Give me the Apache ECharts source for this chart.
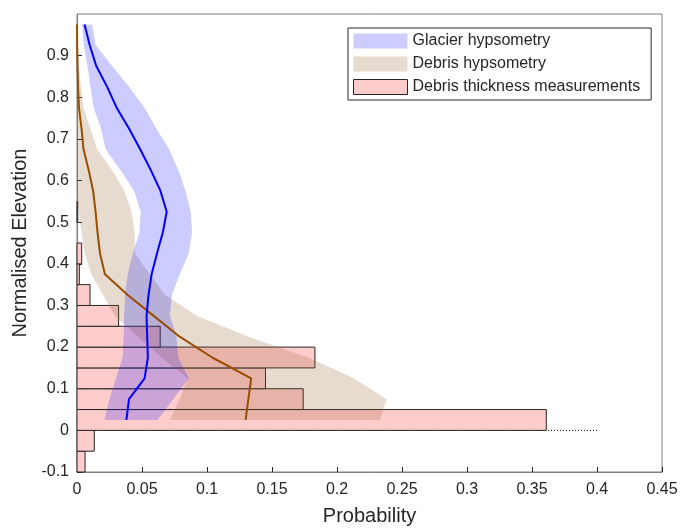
<!DOCTYPE html>
<html>
<head>
<meta charset="utf-8">
<script src="https://cdn.jsdelivr.net/npm/echarts@6/dist/echarts.min.js"></script>
<style>
  html, body { margin: 0; padding: 0; background: #fff; }
  #chart { width: 681px; height: 531px; }
</style>
</head>
<body>
<div id="chart"></div>
<script>
// elevation bin centres (normalised)
const elevation = [0.025, 0.075, 0.125, 0.175, 0.225, 0.275, 0.325, 0.375, 0.425, 0.475,
  0.525, 0.575, 0.625, 0.675, 0.725, 0.775, 0.825, 0.875, 0.925, 0.975];

const glacierMean = [0.038, 0.040, 0.052, 0.0545, 0.054, 0.0535, 0.055, 0.0574, 0.0615, 0.066,
  0.069, 0.0642, 0.0568, 0.0486, 0.040, 0.0305, 0.0232, 0.0148, 0.0098, 0.0058];
const glacierLow = [0.021, 0.025, 0.030, 0.035, 0.036, 0.0362, 0.037, 0.039, 0.043, 0.048,
  0.049, 0.044, 0.0335, 0.022, 0.0185, 0.0128, 0.0104, 0.008, 0.0052, 0.0038];
const glacierHigh = [0.062, 0.074, 0.086, 0.078, 0.0765, 0.0715, 0.073, 0.079, 0.086, 0.0885,
  0.0875, 0.0835, 0.078, 0.071, 0.061, 0.052, 0.040, 0.027, 0.0145, 0.0115];

const debrisMean = [0.1297, 0.1318, 0.134, 0.104, 0.079, 0.059, 0.039, 0.0215, 0.0177, 0.0158,
  0.0143, 0.0124, 0.009, 0.005, 0.0035, 0.0015, 0.0008, 0.0004, 0.0001, 0];
const debrisLow = [0.0715, 0.079, 0.085, 0.065, 0.047, 0.029, 0.020, 0.011, 0.006, 0.0035,
  0.0015, 0, 0, 0, 0, 0, 0, 0, 0, 0];
const debrisHigh = [0.233, 0.238, 0.213, 0.178, 0.132, 0.092, 0.068, 0.056, 0.0446, 0.0444,
  0.042, 0.0365, 0.027, 0.0155, 0.0103, 0.005, 0.003, 0.0015, 0.0008, 0.0002];

// debris thickness measurement histogram (bins of normalised elevation)
const binLower = [-0.1, -0.05, 0, 0.05, 0.1, 0.15, 0.2, 0.25, 0.3, 0.35, 0.4, 0.45, 0.5];
const binUpper = [-0.05, 0, 0.05, 0.1, 0.15, 0.2, 0.25, 0.3, 0.35, 0.4, 0.45, 0.5, 0.55];
const thicknessProb = [0.0062, 0.0133, 0.361, 0.174, 0.145, 0.183, 0.064, 0.032, 0.010, 0.0018,
  0.0036, 0, 0.0006];

const xTicks = [0, 0.05, 0.1, 0.15, 0.2, 0.25, 0.3, 0.35, 0.4, 0.45];
const yTicks = [-0.1, 0, 0.1, 0.2, 0.3, 0.4, 0.5, 0.6, 0.7, 0.8, 0.9];

const FONT = "'Liberation Sans', Arial, sans-serif";
const AXIS_GREY = "#808080";
const TEXT_DARK = "#262626";

const chart = echarts.init(document.getElementById("chart"));

function bandSeries(name, lo, hi, fill) {
  return {
    name: name,
    type: "custom",
    z: 3,
    itemStyle: { color: fill },
    encode: { x: [0, 2], y: 1 },
    data: elevation.map((e, i) => [lo[i], e, hi[i]]),
    renderItem: function (params, api) {
      if (params.dataIndex !== 0) return null;
      const pts = [];
      for (let i = 0; i < elevation.length; i++) pts.push(api.coord([hi[i], elevation[i]]));
      for (let i = elevation.length - 1; i >= 0; i--) pts.push(api.coord([lo[i], elevation[i]]));
      return {
        type: "polygon",
        shape: { points: pts },
        style: { fill: fill, stroke: null },
      };
    },
  };
}

const option = {
  animation: false,
  backgroundColor: "#fff",
  textStyle: { fontFamily: FONT },
  grid: {
    left: 77,
    right: 19,
    top: 14,
    bottom: 55,
    show: true,
    borderColor: AXIS_GREY,
    borderWidth: 1,
  },
  legend: {
    orient: "vertical",
    left: 348,
    top: 28,
    padding: [5, 11, 5, 5],
    itemWidth: 54,
    itemHeight: 15,
    itemGap: 7,
    borderColor: TEXT_DARK,
    borderWidth: 1,
    backgroundColor: "#fff",
    selectedMode: false,
    textStyle: { fontFamily: FONT, fontSize: 16, color: TEXT_DARK },
    data: [
      { name: "Glacier hypsometry", icon: "rect", itemStyle: { color: "rgba(0,0,255,0.2)", borderWidth: 0 } },
      { name: "Debris hypsometry", icon: "rect", itemStyle: { color: "rgba(150,100,50,0.23)", borderWidth: 0 } },
      { name: "Debris thickness measurements", icon: "rect", itemStyle: { color: "#ffcccc", borderColor: TEXT_DARK, borderWidth: 1 } },
    ],
  },
  xAxis: {
    type: "value",
    min: 0,
    max: 0.45,
    interval: 0.05,
    name: "Probability",
    nameLocation: "middle",
    nameGap: 34,
    nameTextStyle: { fontFamily: FONT, fontSize: 20, color: TEXT_DARK },
    splitLine: { show: false },
    axisLine: { show: true, onZero: false, lineStyle: { color: AXIS_GREY, width: 1 } },
    axisTick: { show: true, inside: true, length: 5, customValues: xTicks, lineStyle: { color: TEXT_DARK } },
    axisLabel: {
      customValues: xTicks,
      margin: 10,
      fontFamily: FONT,
      fontSize: 16,
      color: TEXT_DARK,
      formatter: (v) => String(parseFloat(v.toFixed(2))),
    },
  },
  yAxis: {
    type: "value",
    min: -0.1,
    max: 1.0,
    name: "Normalised Elevation",
    nameLocation: "middle",
    nameGap: 46,
    nameTextStyle: { fontFamily: FONT, fontSize: 20, color: TEXT_DARK },
    splitLine: { show: false },
    axisLine: { show: true, onZero: false, lineStyle: { color: AXIS_GREY, width: 1 } },
    axisTick: { show: true, inside: true, length: 5, customValues: yTicks, lineStyle: { color: TEXT_DARK } },
    axisLabel: {
      customValues: yTicks,
      margin: 8,
      fontFamily: FONT,
      fontSize: 16,
      color: TEXT_DARK,
      formatter: (v) => String(parseFloat(v.toFixed(2))),
    },
  },
  series: [
    {
      name: "zero line",
      type: "line",
      z: 1,
      symbol: "none",
      silent: true,
      data: [[0, 0], [0.4, 0]],
      lineStyle: { color: "#000", width: 1, type: [1, 2] },
    },
    {
      name: "Debris thickness measurements",
      type: "custom",
      z: 2,
      itemStyle: { color: "#ffcccc" },
      encode: { x: 2, y: [0, 1] },
      data: binLower.map((b, i) => [b, binUpper[i], thicknessProb[i]]),
      renderItem: function (params, api) {
        const v = api.value(2);
        if (v <= 0) return null;
        const p0 = api.coord([0, api.value(0)]);
        const p1 = api.coord([v, api.value(1)]);
        return {
          type: "rect",
          shape: { x: p0[0], y: p1[1], width: p1[0] - p0[0], height: p0[1] - p1[1] },
          style: { fill: "#ffcccc", stroke: TEXT_DARK, lineWidth: 1 },
        };
      },
    },
    bandSeries("Debris hypsometry", debrisLow, debrisHigh, "rgba(150,100,50,0.23)"),
    bandSeries("Glacier hypsometry", glacierLow, glacierHigh, "rgba(0,0,255,0.2)"),
    {
      name: "Debris mean",
      type: "line",
      z: 5,
      symbol: "none",
      data: elevation.map((e, i) => [debrisMean[i], e]),
      lineStyle: { color: "#994d00", width: 2 },
    },
    {
      name: "Glacier mean",
      type: "line",
      z: 6,
      symbol: "none",
      data: elevation.map((e, i) => [glacierMean[i], e]),
      lineStyle: { color: "#0000ff", width: 2 },
    },
  ],
};

chart.setOption(option);
</script>
</body>
</html>
